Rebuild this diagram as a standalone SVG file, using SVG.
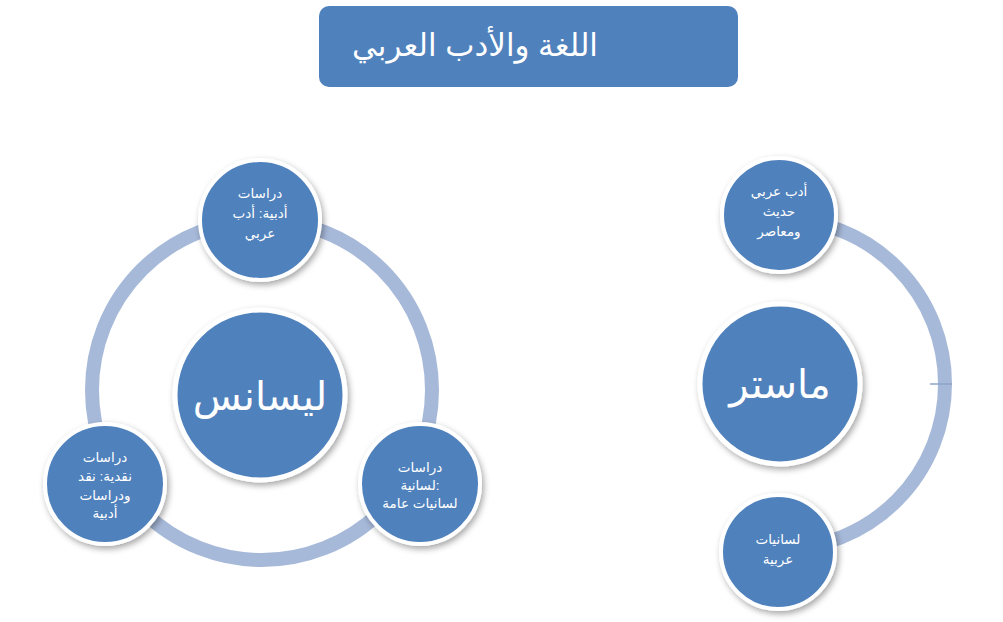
<svg xmlns="http://www.w3.org/2000/svg" width="1003" height="622" viewBox="0 0 1003 622">
<defs>
<style>
.ring{fill:none;stroke:#A7B9D9;stroke-width:14}
.big{fill:#4F81BD;stroke:#fff;stroke-width:5}
.sm{fill:#4F81BD;stroke:#fff;stroke-width:4}
text{font-family:"Liberation Sans","DejaVu Sans",sans-serif;fill:#fff;text-anchor:middle}
.s{font-size:13.5px}
.b{font-size:40px}
</style>
<filter id="sh" x="-20%" y="-20%" width="150%" height="150%"><feDropShadow dx="2" dy="3" stdDeviation="3" flood-color="#000" flood-opacity="0.35"/></filter>
</defs>
<rect width="1003" height="622" fill="#fff"/>
<g id="title"><rect x="319" y="6" width="419" height="81" rx="10" fill="#4F81BD"/><text x="475" y="56" font-size="31">اللغة والأدب العربي</text></g>
<g id="connectors">
<circle class="ring" cx="262" cy="390" r="170"/>
<path class="ring" d="M780 219 A165 165 0 0 1 780 549"/>
<line x1="930" y1="384" x2="952" y2="384" stroke="#8FA4C8" stroke-width="1.5"/>
</g>
<g id="licence"><circle class="big" cx="260" cy="395" r="85" filter="url(#sh)"/><text class="b" x="260" y="410">ليسانس</text></g>
<g id="n1"><circle class="sm" cx="260" cy="220" r="60" filter="url(#sh)"/><text class="s" x="260" y="198">دراسات</text><text class="s" x="260" y="218">أدبية: أدب</text><text class="s" x="260" y="238">عربي</text></g>
<g id="n2"><circle class="sm" cx="420" cy="484" r="60" filter="url(#sh)"/><text class="s" x="420" y="472">دراسات</text><text class="s" x="420" y="490">لسانية:</text><text class="s" x="420" y="508">لسانيات عامة</text></g>
<g id="n3"><circle class="sm" cx="105" cy="484" r="60" filter="url(#sh)"/><text class="s" x="105" y="462">دراسات</text><text class="s" x="105" y="481">نقدية: نقد</text><text class="s" x="105" y="500">ودراسات</text><text class="s" x="105" y="518">أدبية</text></g>
<g id="master"><circle class="big" cx="780" cy="384" r="80" filter="url(#sh)"/><text class="b" x="780" y="398">ماستر</text></g>
<g id="m1"><circle class="sm" cx="779" cy="215" r="57" filter="url(#sh)"/><text class="s" x="779" y="196">أدب عربي</text><text class="s" x="779" y="216">حديث</text><text class="s" x="779" y="236">ومعاصر</text></g>
<g id="m2"><circle class="sm" cx="778" cy="552" r="57" filter="url(#sh)"/><text class="s" x="778" y="544">لسانيات</text><text class="s" x="778" y="564">عربية</text></g>
</svg>
